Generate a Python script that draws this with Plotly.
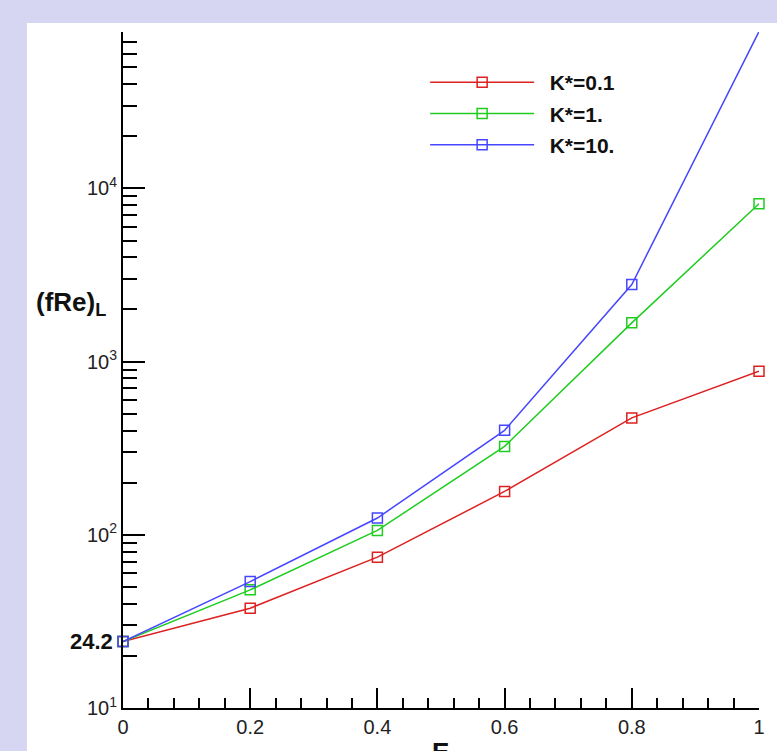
import plotly.graph_objects as go
import numpy as np

# ---- data ----
x_vals = [0, 0.2, 0.4, 0.6, 0.8, 1.0]
fre_k01 = [24.2, 37.7, 74.3, 178, 473, 879]
fre_k1 = [24.2, 48.1, 106, 324, 1674, 8160]
fre_k10 = [24.2, 53.7, 125, 401, 2786, 80500]
series_names = ["K*=0.1", "K*=1.", "K*=10."]
series_colors = ["#dd2020", "#20cc20", "#4646ff"]
y_major = [10, 100, 1000, 10000]
y_major_text = ["10<sup>1</sup>", "10<sup>2</sup>", "10<sup>3</sup>", "10<sup>4</sup>"]
x_ticks = [0, 0.2, 0.4, 0.6, 0.8, 1.0]
x_tick_text = ["0", "0.2", "0.4", "0.6", "0.8", "1"]

W, H = 777, 751
L, R, T, B = 123, 12, 32, 43
pw, ph = W - L - R, H - T - B


def px_x(p):
    return (p - L) / pw


def px_y(p):
    return (H - B - p) / ph


fig = go.Figure()
for name, ys, col in zip(series_names, [fre_k01, fre_k1, fre_k10], series_colors):
    fig.add_trace(go.Scatter(
        x=x_vals, y=ys, mode="lines+markers", name="\u2002" + name,
        line=dict(color=col, width=1.5),
        marker=dict(symbol="square-open", size=10, color=col, line=dict(width=1.5, color=col)),
        cliponaxis=False, legendgroup=name,
    ))

minor_y = [m * 10 ** d for d in range(1, 5) for m in range(2, 10) if m * 10 ** d <= 80000]

tick_font = dict(family="Liberation Sans, Arial", size=20, color="#222")

fig.update_layout(
    width=W, height=H,
    margin=dict(l=L, r=R, t=T, b=B),
    paper_bgcolor="#d6d6f2",
    plot_bgcolor="white",
    showlegend=True,
    legend=dict(
        x=px_x(428), y=px_y(62), xanchor="left", yanchor="top",
        bgcolor="rgba(0,0,0,0)", itemwidth=104, tracegroupgap=1,
        font=dict(family="Liberation Sans, Arial", size=21, color="#111", weight="bold"),
    ),
    xaxis=dict(
        range=[0, 1], showgrid=False, zeroline=False,
        showline=True, linecolor="black", linewidth=2,
        ticks="inside", ticklen=20, tickwidth=2, tickcolor="black",
        tickvals=x_ticks, ticktext=x_tick_text, tickfont=tick_font,
        minor=dict(ticks="inside", ticklen=10, tickwidth=1.5, tickcolor="black", dtick=0.04, showgrid=False),
    ),
    yaxis=dict(
        type="log", range=[1, np.log10(80000)], showgrid=False, zeroline=False,
        showline=True, linecolor="black", linewidth=2,
        ticks="inside", ticklen=22, tickwidth=2, tickcolor="black",
        tickvals=y_major, ticktext=y_major_text, tickfont=tick_font,
        minor=dict(ticks="inside", ticklen=14, tickwidth=1.5, tickcolor="black", tickvals=minor_y, showgrid=False),
    ),
    shapes=[dict(type="rect", xref="paper", yref="paper", layer="below",
                 x0=px_x(26), x1=px_x(790), y0=px_y(23), y1=px_y(760),
                 fillcolor="white", line=dict(width=0))],
    annotations=[
        dict(text="<b>24.2</b>", xref="paper", yref="y", x=0, y=np.log10(24.2),
             xanchor="right", yanchor="middle", xshift=-8, showarrow=False,
             font=dict(family="Liberation Sans, Arial", size=22, color="#111")),
        dict(text="<b>(fRe)<sub>L</sub></b>", xref="paper", yref="paper",
             x=px_x(33), y=px_y(303), xanchor="left", yanchor="middle", showarrow=False,
             font=dict(family="Liberation Sans, Arial", size=26, color="#111")),
        dict(text="<b>E</b>", xref="paper", yref="paper",
             x=px_x(433), y=px_y(735), xanchor="left", yanchor="top", showarrow=False,
             font=dict(family="Liberation Sans, Arial", size=26, color="#111")),
    ],
)

fig.write_html("out.html", config={"displayModeBar": False},
               post_script="document.body.style.margin='0';")
